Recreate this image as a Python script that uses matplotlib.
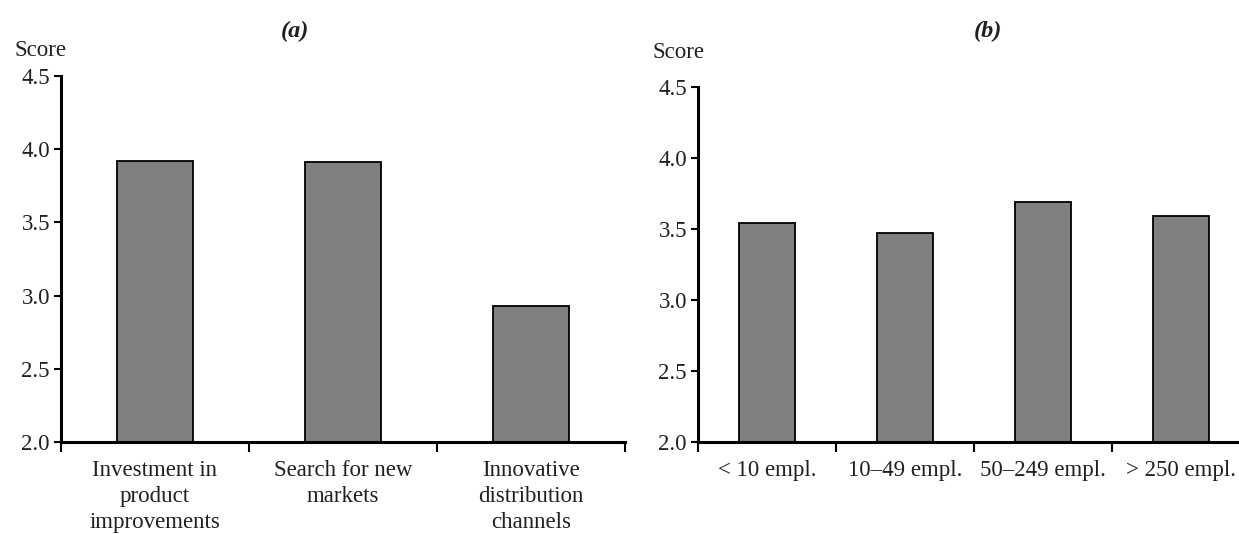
import matplotlib
matplotlib.use("Agg")
import matplotlib.pyplot as plt
import numpy as np

# Scores by measure type (a) and by firm size (b)
measures = ["Investment in\nproduct\nimprovements", "Search for new\nmarkets",
            "Innovative\ndistribution\nchannels"]
measure_scores = [3.92, 3.91, 2.93]

size_classes = ["< 10 empl.", "10\u201349 empl.", "50\u2013249 empl.", "> 250 empl."]
size_scores = [3.54, 3.47, 3.69, 3.59]

y_ticks = [2.0, 2.5, 3.0, 3.5, 4.0, 4.5]

plt.rcParams["font.family"] = ["Liberation Serif", "DejaVu Serif"]
TEXT = "#231f20"
BAR = "#808080"
FS = 16.5

W, H = 1239, 534
fig = plt.figure(figsize=(W / 100, H / 100), dpi=100)


def px_axes(left, top, right, bottom):
    return fig.add_axes([left / W, 1 - bottom / H, (right - left) / W, (bottom - top) / H])


def style(ax, cats, vals):
    n = len(cats)
    x = np.arange(n)
    ax.bar(x, vals, width=0.4, bottom=0, color=BAR, edgecolor="black", linewidth=1.3, zorder=2)
    ax.set_xlim(-0.5, n - 0.5)
    ax.set_ylim(2.0, 4.5)
    ax.set_yticks(y_ticks)
    ax.set_yticklabels([f"{v:.1f}" for v in y_ticks])
    ax.set_xticks(np.arange(n + 1) - 0.5)
    ax.set_xticklabels([])
    ax.set_xticks(x, minor=True)
    ax.set_xticklabels(cats, minor=True, fontsize=FS, color=TEXT, linespacing=1.32)
    ax.tick_params(axis="x", which="minor", length=0, pad=13)
    ax.tick_params(axis="x", which="major", length=7, width=1.5, direction="out")
    ax.tick_params(axis="y", length=5, width=1.5, direction="out", pad=3,
                   labelsize=FS, labelcolor=TEXT)
    for s in ("top", "right"):
        ax.spines[s].set_visible(False)
    for s in ("left", "bottom"):
        ax.spines[s].set_linewidth(2.2)
        ax.spines[s].set_color("black")


ax_a = px_axes(61, 76, 625, 442)
style(ax_a, measures, measure_scores)

ax_b = px_axes(698, 87, 1250, 442)
style(ax_b, size_classes, size_scores)

fig.text(295 / W, 1 - 31 / H, "(a)", ha="center", va="center", fontsize=17.5,
         fontstyle="italic", fontweight="bold", color=TEXT)
fig.text(988 / W, 1 - 31 / H, "(b)", ha="center", va="center", fontsize=17.5,
         fontstyle="italic", fontweight="bold", color=TEXT)
fig.text(14 / W, 1 - 50 / H, "Score", ha="left", va="center", fontsize=FS, color=TEXT)
fig.text(652 / W, 1 - 52 / H, "Score", ha="left", va="center", fontsize=FS, color=TEXT)

fig.savefig("out.png", dpi=100)
